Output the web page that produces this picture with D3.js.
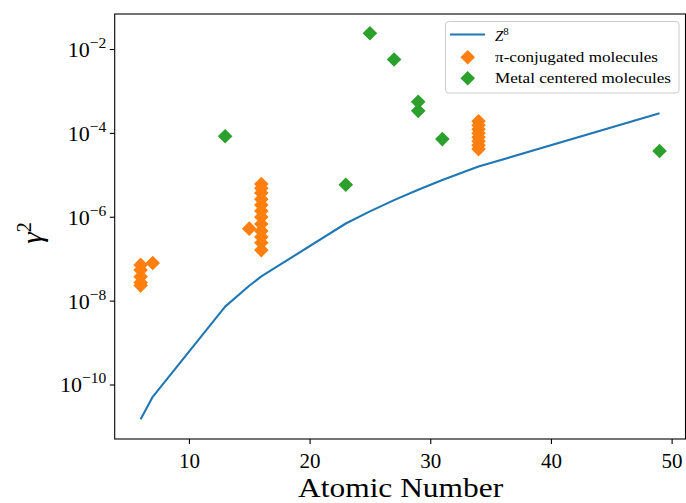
<!DOCTYPE html>
<html>
<head>
<meta charset="utf-8">
<script src="https://cdn.jsdelivr.net/npm/d3@7"></script>
<style>
  html, body { margin: 0; padding: 0; background: #fff; }
  svg { display: block; }
  text { font-family: "Liberation Serif", "Times New Roman", serif; fill: #000; }
</style>
</head>
<body>
<svg id="chart" width="686" height="503"></svg>
<script>
// Z^8 reference curve, evaluated at each atomic number present in the data
const curveZ = [6, 7, 13, 15, 16, 23, 25, 27, 29, 31, 34, 49];
const curveGamma2 = [1.48e-11, 5.08e-11, 7.19e-9, 2.26e-8, 3.78e-8, 6.90e-7,
                     1.344e-6, 2.49e-6, 4.41e-6, 7.51e-6, 1.573e-5, 2.93e-4];

// pi-conjugated molecules: atomic number of heaviest atom and gamma^2
const piZ = [6, 6, 6, 6, 6, 7, 15,
             16, 16, 16, 16, 16, 16, 16, 16, 16, 16, 16, 16,
             34, 34, 34, 34, 34, 34, 34, 34];
const piGamma2 = [7.1e-8, 5.4e-8, 3.7e-8, 2.7e-8, 2.3e-8, 7.9e-8, 5.2e-7,
                  6.0e-6, 4.8e-6, 3.7e-6, 2.6e-6, 1.9e-6, 1.37e-6, 9.8e-7, 6.7e-7, 4.6e-7, 3.3e-7, 2.4e-7, 1.6e-7,
                  1.9e-4, 1.52e-4, 1.22e-4, 9.8e-5, 7.9e-5, 6.3e-5, 5.1e-5, 4.1e-5];

// metal centered molecules
const metalZ = [13, 23, 25, 27, 29, 29, 31, 49];
const metalGamma2 = [8.3e-5, 5.8e-6, 2.37e-2, 5.6e-3, 5.5e-4, 3.35e-4, 7.1e-5, 3.7e-5];

const xTicks = [10, 20, 30, 40, 50];
const yTickExps = [-2, -4, -6, -8, -10];

const legendLabels = ["Z", "\u03C0-conjugated molecules", "Metal centered molecules"];

const colors = { line: "#1f77b4", pi: "#ff7f0e", metal: "#2ca02c" };

const svg = d3.select("#chart");
const plot = { left: 114.7, right: 685.5, top: 14, bottom: 439 };

const x = d3.scaleLinear().domain([3.85, 51.15]).range([plot.left, plot.right]);
const y = d3.scaleLog().domain([Math.pow(10, -11.3), Math.pow(10, -1.165)]).range([plot.bottom, plot.top]);

// clip for data marks
svg.append("defs").append("clipPath").attr("id", "plotclip")
  .append("rect")
  .attr("x", plot.left).attr("y", plot.top)
  .attr("width", plot.right - plot.left).attr("height", plot.bottom - plot.top);

const marks = svg.append("g").attr("clip-path", "url(#plotclip)");

// Z^8 curve
const line = d3.line().x(d => x(d[0])).y(d => y(d[1]));
marks.append("path")
  .datum(curveZ.map((z, i) => [z, curveGamma2[i]]))
  .attr("d", line)
  .attr("fill", "none")
  .attr("stroke", colors.line)
  .attr("stroke-width", 2.1)
  .attr("stroke-linejoin", "round");

const diamond = r => `M0,${-r}L${r},0L0,${r}L${-r},0Z`;
const R = 7.3;

marks.append("g").selectAll("path")
  .data(piZ.map((z, i) => [z, piGamma2[i]]))
  .join("path")
  .attr("d", diamond(R))
  .attr("transform", d => `translate(${x(d[0])},${y(d[1])})`)
  .attr("fill", colors.pi);

marks.append("g").selectAll("path")
  .data(metalZ.map((z, i) => [z, metalGamma2[i]]))
  .join("path")
  .attr("d", diamond(R))
  .attr("transform", d => `translate(${x(d[0])},${y(d[1])})`)
  .attr("fill", colors.metal);

// axes
const xAxis = d3.axisBottom(x).tickValues(xTicks).tickSize(4.9).tickFormat("");
const gx = svg.append("g").attr("transform", `translate(0,${plot.bottom})`).call(xAxis);
gx.select(".domain").remove();
gx.selectAll(".tick line").attr("stroke", "#000").attr("stroke-width", 1.1);

gx.selectAll(".tick").append("text")
  .attr("y", 28.5)
  .attr("text-anchor", "middle")
  .attr("font-size", 21)
  .text(d => d);

const yAxis = d3.axisLeft(y).tickValues(yTickExps.map(e => Math.pow(10, e))).tickSize(4.9).tickFormat("");
const gy = svg.append("g").attr("transform", `translate(${plot.left},0)`).call(yAxis);
gy.select(".domain").remove();
gy.selectAll(".tick line").attr("stroke", "#000").attr("stroke-width", 1.1);

gy.selectAll(".tick").each(function(d, i) {
  const exp = yTickExps[i];
  const t = d3.select(this).append("text")
    .attr("x", -8.5)
    .attr("y", 7.5)
    .attr("text-anchor", "end")
    .attr("font-size", 22);
  t.append("tspan").text("10");
  t.append("tspan").attr("dy", -9).attr("font-size", 15.5).text("\u2212" + Math.abs(exp));
});

// frame
svg.append("rect")
  .attr("x", plot.left).attr("y", plot.top)
  .attr("width", plot.right - plot.left).attr("height", plot.bottom - plot.top)
  .attr("fill", "none").attr("stroke", "#000").attr("stroke-width", 1.1);

// axis titles
svg.append("text")
  .attr("x", (plot.left + plot.right) / 2 + 0.5)
  .attr("y", 497)
  .attr("text-anchor", "middle")
  .attr("font-size", 27)
  .attr("textLength", 205)
  .attr("lengthAdjust", "spacingAndGlyphs")
  .text("Atomic Number");

const yl = svg.append("text")
  .attr("transform", "translate(42,233) rotate(-90)")
  .attr("text-anchor", "middle")
  .attr("font-size", 29);
yl.append("tspan").attr("font-style", "italic").text("\u03B3");
yl.append("tspan").attr("dy", -11).attr("font-size", 20).text("2");

// legend
const lg = svg.append("g");
lg.append("rect")
  .attr("x", 445.5).attr("y", 21.5).attr("width", 233.5).attr("height", 71.5)
  .attr("rx", 3).attr("ry", 3)
  .attr("fill", "#fff").attr("fill-opacity", 0.8)
  .attr("stroke", "#cccccc").attr("stroke-width", 1);

lg.append("line")
  .attr("x1", 450).attr("x2", 485).attr("y1", 34.5).attr("y2", 34.5)
  .attr("stroke", colors.line).attr("stroke-width", 2.1);
const zt = lg.append("text").attr("x", 495).attr("y", 41).attr("font-size", 15);
zt.append("tspan").attr("font-style", "italic").text(legendLabels[0]);
zt.append("tspan").attr("dy", -6).attr("font-size", 11).text("8");

lg.append("path").attr("d", diamond(R)).attr("transform", "translate(467.7,57.3)").attr("fill", colors.pi);
lg.append("text").attr("x", 495).attr("y", 62).attr("font-size", 15)
  .attr("textLength", 163).attr("lengthAdjust", "spacingAndGlyphs")
  .text(legendLabels[1]);

lg.append("path").attr("d", diamond(R)).attr("transform", "translate(467.7,78.3)").attr("fill", colors.metal);
lg.append("text").attr("x", 495).attr("y", 83).attr("font-size", 15)
  .attr("textLength", 176).attr("lengthAdjust", "spacingAndGlyphs")
  .text(legendLabels[3 - 1]);
</script>
</body>
</html>
